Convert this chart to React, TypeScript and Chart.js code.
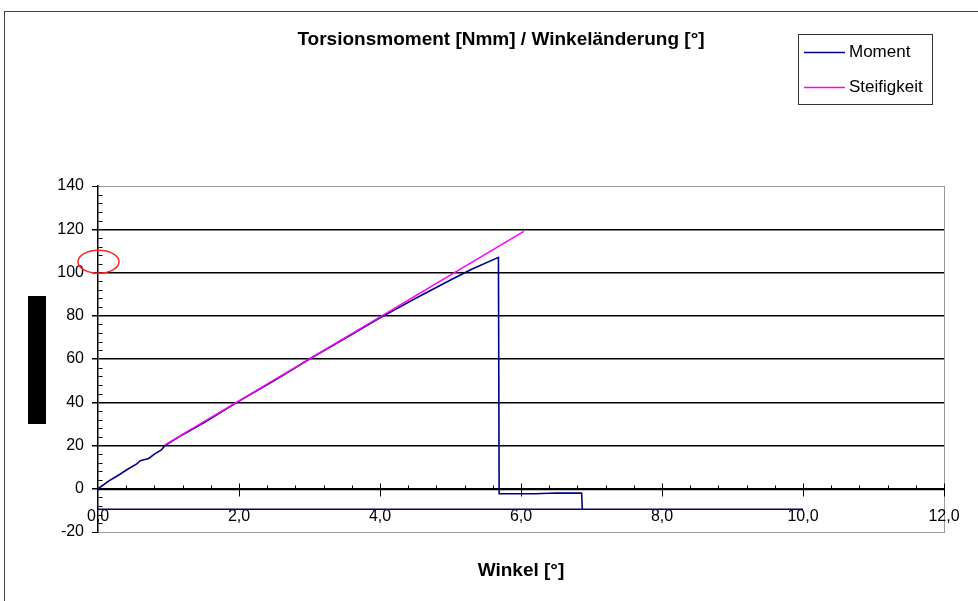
import React, { useEffect, useRef } from "react";
import { Chart, registerables } from "chart.js";

Chart.register(...registerables);

const CHART_TITLE = "Torsionsmoment [Nmm] / Winkeländerung [°]";
const X_TITLE = "Winkel [°]";
const SERIES_NAMES = ["Moment", "Steifigkeit"];
const SERIES_COLORS = ["#000080", "#ff00ff"];

const momentX = [0, 0.15, 0.3, 0.42, 0.55, 0.6, 0.72, 0.8, 0.9, 0.95, 1.2, 1.5, 2.0, 2.5, 3.0, 3.5, 4.0, 4.5, 5.0, 5.3, 5.68, 5.69, 6.2, 6.5, 6.86, 6.87, 10.0, 0.0];
const momentY = [0, 3.5, 6.5, 9, 11.5, 13, 14, 16, 18, 20, 25, 30.5, 40.5, 50, 60, 69.5, 79, 88, 96.5, 101.5, 107, -2.3, -2.3, -2, -2, -9.5, -9.5, -9.5];

const steifX = [0.95, 6.04];
const steifY = [20.3, 119];

const X_MIN = 0, X_MAX = 12, X_STEP = 2, X_MINOR = 0.4;
const Y_MIN = -20, Y_MAX = 140, Y_STEP = 20, Y_MINOR = 4;

const FONT = "'Liberation Sans', Arial, sans-serif";
const fmtX = (v: number) => Number(v).toFixed(1).replace(".", ",");

const decorPlugin = {
  id: "decor",
  beforeDraw(chart: any) {
    const ctx = chart.ctx;
    ctx.save();
    ctx.fillStyle = "#fff";
    ctx.fillRect(0, 0, chart.width, chart.height);
    ctx.strokeStyle = "#444";
    ctx.lineWidth = 1;
    ctx.strokeRect(4.5, 11.5, 1100, 700);
    ctx.restore();
  },
  beforeDatasetsDraw(chart: any) {
    const ctx = chart.ctx;
    const xs = chart.scales.x;
    const ys = chart.scales.y;
    const a = chart.chartArea;
    ctx.save();
    // right border of plot area
    ctx.strokeStyle = "#999";
    ctx.lineWidth = 1;
    ctx.beginPath();
    const rx = Math.round(a.right) + 0.5;
    ctx.moveTo(rx, a.top);
    ctx.lineTo(rx, a.bottom);
    ctx.stroke();
    // x axis at y = 0
    const y0 = Math.round(ys.getPixelForValue(0)) + 0.5;
    ctx.strokeStyle = "#000";
    ctx.lineWidth = 1.5;
    ctx.beginPath();
    ctx.moveTo(a.left, y0);
    ctx.lineTo(a.right, y0);
    ctx.stroke();
    ctx.lineWidth = 1;
    for (let i = 1; i * X_MINOR <= X_MAX + 1e-9; i++) {
      const v = i * X_MINOR;
      const px = Math.round(xs.getPixelForValue(v)) + 0.5;
      const isMajor = Math.abs(v / X_STEP - Math.round(v / X_STEP)) < 1e-6;
      ctx.beginPath();
      if (isMajor) {
        ctx.moveTo(px, y0 - 6);
        ctx.lineTo(px, y0 + 7);
      } else {
        ctx.moveTo(px, y0 - 4);
        ctx.lineTo(px, y0);
      }
      ctx.stroke();
    }
    // y minor ticks
    const ax = Math.round(a.left) + 0.5;
    for (let v = Y_MIN; v <= Y_MAX; v += Y_MINOR) {
      if (v % Y_STEP === 0) continue;
      const py = Math.round(ys.getPixelForValue(v)) + 0.5;
      ctx.beginPath();
      ctx.moveTo(ax, py);
      ctx.lineTo(ax + 4, py);
      ctx.stroke();
    }
    // x tick labels (Excel places them just under the axis line)
    ctx.fillStyle = "#000";
    ctx.font = `16px ${FONT}`;
    ctx.textAlign = "center";
    ctx.textBaseline = "middle";
    xs.ticks.forEach((t: any) => {
      ctx.fillText(fmtX(t.value), xs.getPixelForValue(t.value), 517);
    });
    ctx.restore();
  },
  afterDraw(chart: any) {
    const ctx = chart.ctx;
    const xs = chart.scales.x;
    const ys = chart.scales.y;
    ctx.save();
    // legend
    ctx.strokeStyle = "#333";
    ctx.lineWidth = 1;
    ctx.strokeRect(798.5, 34.5, 134, 70);
    ctx.font = `17px ${FONT}`;
    ctx.textBaseline = "middle";
    ctx.textAlign = "left";
    chart.data.datasets.forEach((ds: any, i: number) => {
      const ly = i === 0 ? 52.5 : 87.5;
      ctx.strokeStyle = ds.borderColor;
      ctx.lineWidth = 1.5;
      ctx.beginPath();
      ctx.moveTo(804, ly);
      ctx.lineTo(845, ly);
      ctx.stroke();
      ctx.fillStyle = "#000";
      ctx.fillText(ds.label, 849, ly);
    });
    // redaction block
    ctx.fillStyle = "#000";
    ctx.fillRect(28, 296, 18, 128);
    // red ellipse annotation
    ctx.strokeStyle = "#ff2020";
    ctx.lineWidth = 1.5;
    ctx.beginPath();
    ctx.ellipse(xs.getPixelForValue(0) + 0.5, ys.getPixelForValue(105), 20.5, 11.5, 0, 0, Math.PI * 2);
    ctx.stroke();
    ctx.restore();
  },
};

export default function App() {
  const ref = useRef<HTMLCanvasElement | null>(null);
  useEffect(() => {
    if (!ref.current) return;
    const chart = new Chart(ref.current, {
      type: "scatter",
      data: {
        datasets: [
          {
            label: SERIES_NAMES[0],
            data: momentX.map((x, i) => ({ x, y: momentY[i] })),
            borderColor: SERIES_COLORS[0],
            backgroundColor: SERIES_COLORS[0],
            borderWidth: 1.6,
            showLine: true,
            pointRadius: 0,
            tension: 0,
            order: 1,
          },
          {
            label: SERIES_NAMES[1],
            data: steifX.map((x, i) => ({ x, y: steifY[i] })),
            borderColor: SERIES_COLORS[1],
            backgroundColor: SERIES_COLORS[1],
            borderWidth: 1.6,
            showLine: true,
            pointRadius: 0,
            tension: 0,
            order: 0,
          },
        ],
      },
      options: {
        responsive: false,
        animation: false,
        layout: { padding: { left: 58, right: 34, top: 0, bottom: 0 } },
        plugins: {
          legend: { display: false },
          tooltip: { enabled: false },
          title: {
            display: true,
            text: CHART_TITLE,
            color: "#000",
            font: { family: FONT, size: 19, weight: "bold" },
            padding: { top: 28.6, bottom: 134.6 },
          },
        },
        scales: {
          x: {
            type: "linear",
            position: "bottom",
            min: X_MIN,
            max: X_MAX,
            afterFit: (s: any) => { s.height = 69; },
            ticks: {
              stepSize: X_STEP,
              display: false,
              autoSkip: false,
              maxRotation: 0,
            },
            grid: { display: false, drawTicks: false },
            border: { display: true, color: "#999", width: 1 },
            title: {
              display: true,
              text: X_TITLE,
              color: "#000",
              font: { family: FONT, size: 19, weight: "bold" },
              padding: { top: 0, bottom: 18.6 },
            },
          },
          y: {
            type: "linear",
            min: Y_MIN,
            max: Y_MAX,
            afterFit: (s: any) => { s.width = 40; },
            ticks: {
              stepSize: Y_STEP,
              color: "#000",
              font: { family: FONT, size: 16 },
              padding: 8,
            },
            grid: {
              color: (c: any) => (c.tick && (c.tick.value === Y_MAX || c.tick.value === Y_MIN) ? "#999" : "#000"),
              lineWidth: (c: any) => (c.tick && (c.tick.value === Y_MAX || c.tick.value === Y_MIN) ? 1 : 1.5),
              tickColor: "#000",
              tickLength: 6,
              drawTicks: true,
            },
            border: { display: true, color: "#000", width: 1.5 },
          },
        },
      },
      plugins: [decorPlugin],
    } as any);
    return () => chart.destroy();
  }, []);
  return (
    <div style={{ position: "fixed", left: 0, top: 0, width: 978, height: 601, background: "#fff" }}>
      <canvas ref={ref} width={978} height={601} style={{ display: "block" }} />
    </div>
  );
}
